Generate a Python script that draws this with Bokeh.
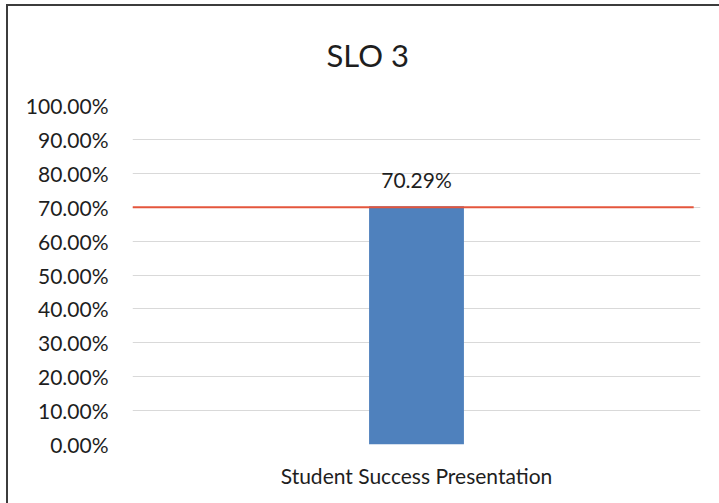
from bokeh.plotting import figure
from bokeh.models import (FactorRange, Range1d, FixedTicker, NumeralTickFormatter,
                          ColumnDataSource, LabelSet, Title)
from bokeh.core.properties import value
from bokeh.embed import file_html
from bokeh.resources import INLINE

# ---- data ----
title_text = "SLO 3"
categories = ["Student Success Presentation"]
values = [0.7029]
value_labels = ["70.29%"]
target = 0.70
y_ticks = [0.0, 0.1, 0.2, 0.3, 0.4, 0.5, 0.6, 0.7, 0.8, 0.9, 1.0]

FONT = "Lato"
TXT = "#1e1e1e"

p = figure(width=719, height=503, output_backend="svg", toolbar_location=None,
           x_range=FactorRange(factors=categories, range_padding=0),
           y_range=Range1d(0, 1),
           min_border_left=132, min_border_right=19,
           min_border_top=105, min_border_bottom=59)

p.title = Title(text=title_text, align="left", offset=194, standoff=63,
                text_font=FONT, text_font_size="31px", text_font_style="normal",
                text_color=TXT)

p.outline_line_color = None
p.background_fill_color = "white"
p.border_fill_color = None
p.styles = {"box-shadow": "inset 6px 4px 0 0 white, inset 8px 6px 0 0 #3c3c3c",
            "background-color": "white"}

src = ColumnDataSource(dict(cat=categories, val=values, lab=value_labels))
p.vbar(x="cat", top="val", width=0.167, source=src, color="#4F81BD", line_color=None)

# target line
p.segment(x0=[0.0], x1=[0.988], y0=[target], y1=[target],
          line_color="#E4563C", line_width=2)

labels = LabelSet(x="cat", y="val", text="lab", source=src, text_align="center",
                  text_baseline="alphabetic", y_offset=18,
                  text_font=value(FONT), text_font_size=value("21px"),
                  text_color=TXT)
p.add_layout(labels)

# axes
p.yaxis.ticker = FixedTicker(ticks=y_ticks)
p.yaxis.formatter = NumeralTickFormatter(format="0.00%")
p.yaxis.axis_line_color = None
p.yaxis.major_tick_line_color = None
p.yaxis.minor_tick_line_color = None
p.yaxis.major_tick_out = 0
p.yaxis.major_tick_in = 0
p.yaxis.major_label_standoff = 24
p.yaxis.major_label_text_font = FONT
p.yaxis.major_label_text_font_size = "21px"
p.yaxis.major_label_text_color = TXT

p.xaxis.axis_line_color = None
p.xaxis.major_tick_line_color = None
p.xaxis.major_tick_out = 0
p.xaxis.major_tick_in = 0
p.xaxis.major_label_standoff = 18
p.xaxis.major_label_text_font = FONT
p.xaxis.major_label_text_font_size = "21px"
p.xaxis.major_label_text_color = TXT

p.xgrid.grid_line_color = None
p.ygrid.grid_line_color = "#D9D9D9"
p.ygrid.grid_line_width = 1

open("out.html", "w").write(file_html(p, INLINE))
